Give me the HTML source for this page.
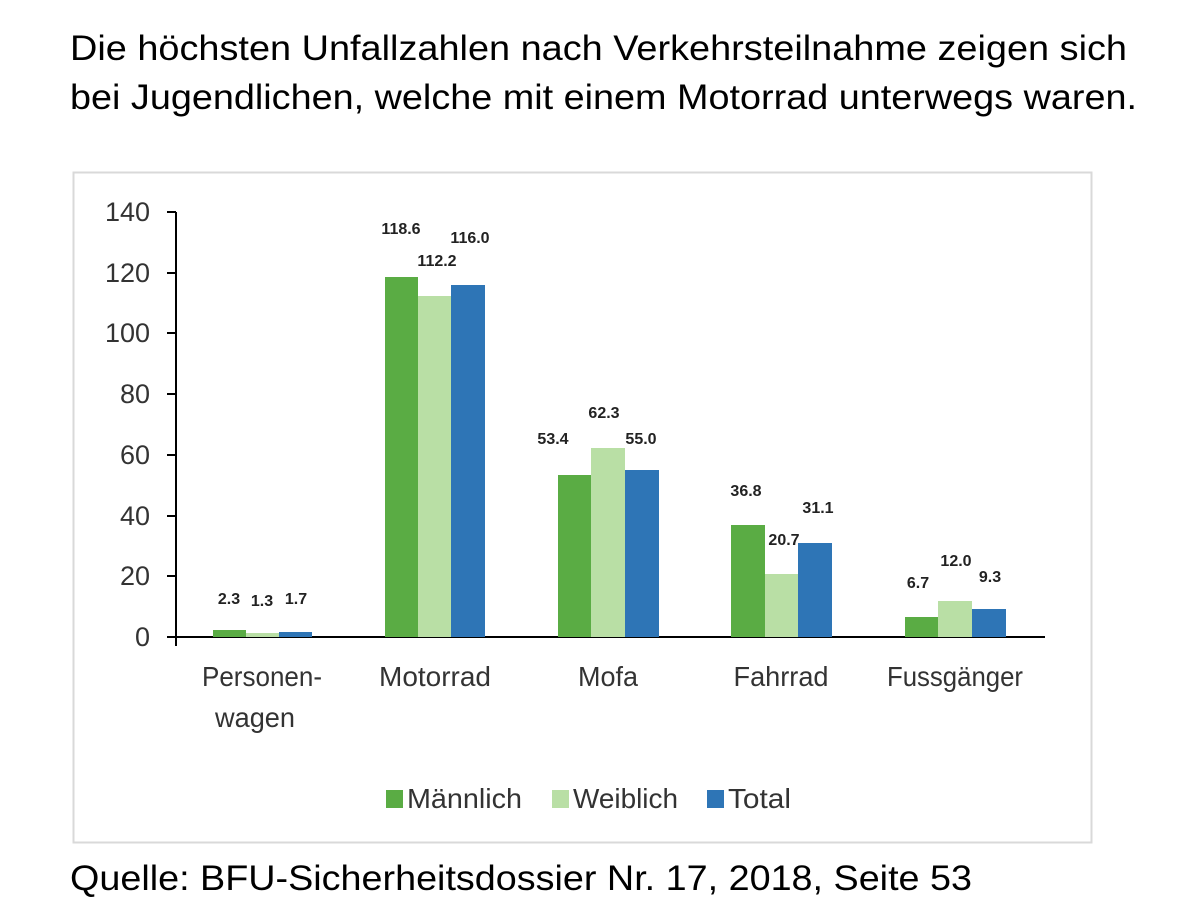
<!DOCTYPE html>
<html><head><meta charset="utf-8"><style>
body{margin:0;background:#fff;width:1204px;height:911px;overflow:hidden}
svg{display:block}
</style></head><body>
<svg width="1204" height="911" xmlns="http://www.w3.org/2000/svg">
<g font-family="Liberation Sans, Arial, sans-serif" font-size="35" fill="#000">
<text x="70" y="60" textLength="1057" lengthAdjust="spacingAndGlyphs">Die höchsten Unfallzahlen nach Verkehrsteilnahme zeigen sich</text>
<text x="70" y="109" textLength="1067" lengthAdjust="spacingAndGlyphs">bei Jugendlichen, welche mit einem Motorrad unterwegs waren.</text>
<text x="70" y="890" textLength="902" lengthAdjust="spacingAndGlyphs">Quelle: BFU-Sicherheitsdossier Nr. 17, 2018, Seite 53</text>
</g>
<rect x="73.5" y="172.5" width="1018" height="670" fill="#fff" stroke="#d9d9d9" stroke-width="2"/>
<g font-family="Liberation Sans, sans-serif" font-size="27" fill="#333" text-anchor="end">
<text x="150" y="646">0</text><text x="150" y="585">20</text><text x="150" y="525">40</text><text x="150" y="464">60</text>
<text x="150" y="403">80</text><text x="150" y="342">100</text><text x="150" y="282">120</text><text x="150" y="221">140</text>
</g>
<g stroke="#000" stroke-width="2">
<line x1="176" y1="212" x2="176" y2="646"/>
<line x1="167" y1="637" x2="1045" y2="637"/>
<line x1="167" y1="212" x2="176" y2="212"/><line x1="167" y1="273" x2="176" y2="273"/><line x1="167" y1="333" x2="176" y2="333"/>
<line x1="167" y1="394" x2="176" y2="394"/><line x1="167" y1="455" x2="176" y2="455"/><line x1="167" y1="516" x2="176" y2="516"/><line x1="167" y1="576" x2="176" y2="576"/>
</g>
<g>
<rect x="213" y="630" width="33" height="7" fill="#5aac44"/><rect x="246" y="633" width="33" height="4" fill="#b9dfa5"/><rect x="279" y="632" width="33" height="5" fill="#2e75b6"/>
<rect x="385" y="277" width="33" height="360" fill="#5aac44"/><rect x="418" y="296" width="33" height="341" fill="#b9dfa5"/><rect x="451" y="285" width="34" height="352" fill="#2e75b6"/>
<rect x="558" y="475" width="33" height="162" fill="#5aac44"/><rect x="591" y="448" width="34" height="189" fill="#b9dfa5"/><rect x="625" y="470" width="34" height="167" fill="#2e75b6"/>
<rect x="731" y="525" width="34" height="112" fill="#5aac44"/><rect x="765" y="574" width="33" height="63" fill="#b9dfa5"/><rect x="798" y="543" width="34" height="94" fill="#2e75b6"/>
<rect x="905" y="617" width="33" height="20" fill="#5aac44"/><rect x="938" y="601" width="34" height="36" fill="#b9dfa5"/><rect x="972" y="609" width="34" height="28" fill="#2e75b6"/>
</g>
<g font-family="Liberation Sans, sans-serif" font-size="16" fill="#222" text-anchor="middle" font-weight="bold">
<text x="229" y="604">2.3</text><text x="262" y="606">1.3</text><text x="296" y="604">1.7</text>
<text x="401" y="234">118.6</text><text x="437" y="266">112.2</text><text x="470" y="243">116.0</text>
<text x="553" y="444">53.4</text><text x="604" y="418">62.3</text><text x="641" y="444">55.0</text>
<text x="746" y="496">36.8</text><text x="784" y="545">20.7</text><text x="818" y="513">31.1</text>
<text x="918" y="588">6.7</text><text x="956" y="566">12.0</text><text x="990" y="582">9.3</text>
</g>
<g font-family="Liberation Sans, sans-serif" font-size="28" fill="#333" text-anchor="middle">
<text x="262" y="686" textLength="120" lengthAdjust="spacingAndGlyphs">Personen-</text><text x="255" y="727" textLength="80" lengthAdjust="spacingAndGlyphs">wagen</text>
<text x="435" y="686" textLength="112" lengthAdjust="spacingAndGlyphs">Motorrad</text><text x="608" y="686" textLength="60" lengthAdjust="spacingAndGlyphs">Mofa</text><text x="781" y="686" textLength="95" lengthAdjust="spacingAndGlyphs">Fahrrad</text><text x="955" y="686" textLength="136" lengthAdjust="spacingAndGlyphs">Fussgänger</text>
</g>
<g font-family="Liberation Sans, sans-serif" font-size="28" fill="#333">
<rect x="386" y="790" width="17" height="18" fill="#5aac44"/><text x="407" y="808" textLength="115" lengthAdjust="spacingAndGlyphs">Männlich</text>
<rect x="552" y="790" width="17" height="18" fill="#b9dfa5"/><text x="573" y="808" textLength="105" lengthAdjust="spacingAndGlyphs">Weiblich</text>
<rect x="707" y="790" width="17" height="18" fill="#2e75b6"/><text x="728" y="808" textLength="63" lengthAdjust="spacingAndGlyphs">Total</text>
</g>
</svg>
</body></html>
